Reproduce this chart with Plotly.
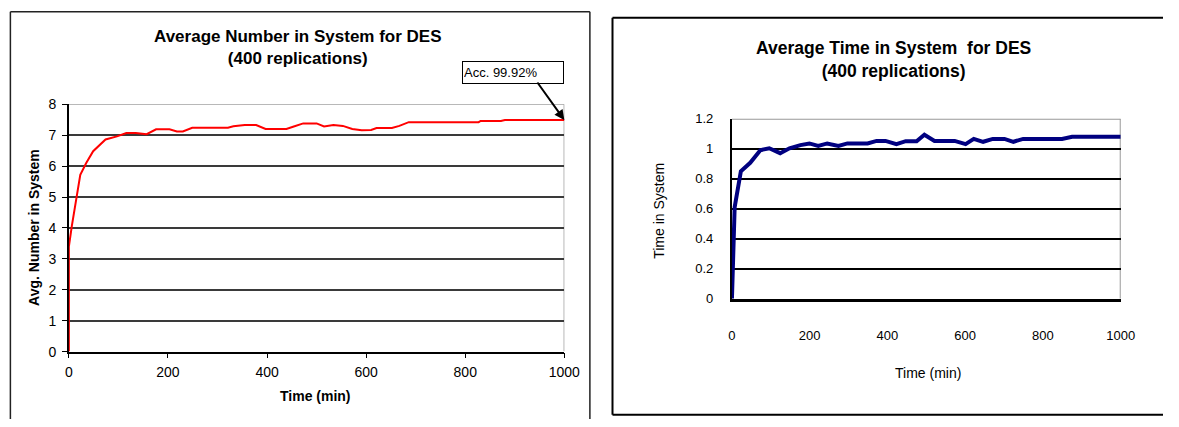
import plotly.graph_objects as go

W, H = 1179, 427

# ---- Data: left chart (Average Number in System) ----
num_time = [0, 0, 6, 15, 23, 35, 49, 74, 97, 116, 135, 157, 176, 203, 218, 230, 249, 321, 332, 355,
            378, 397, 439, 454, 473, 500, 515, 534, 553, 572, 591, 610, 621, 652, 667, 686, 827,
            831, 872, 880, 1000]
num_avg = [0, 3.4, 4.07, 5.0, 5.72, 6.1, 6.48, 6.86, 6.96, 7.07, 7.07, 7.03, 7.19, 7.19, 7.12, 7.12,
           7.24, 7.24, 7.29, 7.33, 7.33, 7.2, 7.2, 7.28, 7.38, 7.38, 7.28, 7.33, 7.3, 7.2, 7.16,
           7.17, 7.23, 7.23, 7.3, 7.42, 7.42, 7.46, 7.46, 7.49, 7.49]

# ---- Data: right chart (Average Time in System) ----
tis_time = [0, 7, 23, 47, 73, 96, 124, 148, 176, 199, 222, 245, 274, 297, 349, 372, 395, 423, 447,
            475, 495, 521, 573, 601, 622, 646, 671, 701, 724, 749, 849, 875, 1000]
tis_avg = [0, 0.61, 0.85, 0.906, 0.99, 1.003, 0.97, 1.003, 1.024, 1.035, 1.018, 1.035, 1.018, 1.035,
           1.035, 1.052, 1.052, 1.03, 1.05, 1.05, 1.093, 1.052, 1.052, 1.03, 1.065, 1.046, 1.065,
           1.065, 1.046, 1.065, 1.065, 1.08, 1.08]

x_ticks = [0, 200, 400, 600, 800, 1000]
acc_label = "Acc. 99.92%"


def px(x):
    return min(max(x / W, 0.0), 1.0)


def py(y):
    return min(max(1 - y / H, 0.0), 1.0)


FONT = "Liberation Sans, Arial, sans-serif"

fig = go.Figure()
fig.add_trace(go.Scatter(x=num_time, y=num_avg, mode="lines", xaxis="x", yaxis="y",
                         line=dict(color="#ff0000", width=2), showlegend=False, hoverinfo="skip",
                         cliponaxis=False))
fig.add_trace(go.Scatter(x=tis_time, y=tis_avg, mode="lines", xaxis="x2", yaxis="y2",
                         line=dict(color="#000080", width=4), showlegend=False, hoverinfo="skip",
                         cliponaxis=False))

fig.update_layout(
    width=W, height=H,
    margin=dict(l=0, r=0, t=0, b=0),
    paper_bgcolor="white", plot_bgcolor="white",
    font=dict(family=FONT, color="black"),
    xaxis=dict(domain=[px(66), px(570)], range=[0, 1000], tickvals=x_ticks,
               showgrid=False, zeroline=False, showline=True, linecolor="#000000", linewidth=1.5,
               ticks="outside", ticklen=5, tickcolor="#000000", layer="below traces",
               tickfont=dict(family=FONT, size=14, color="#000000"), ticklabelstandoff=2,
               anchor="y", fixedrange=True),
    yaxis=dict(domain=[py(357), py(100)], range=[0, 8], dtick=1,
               showgrid=True, gridcolor="#3a3a3a", gridwidth=1.5, zeroline=False,
               showline=True, linecolor="#000000", linewidth=1.5, layer="below traces",
               ticks="outside", ticklen=5, tickcolor="#000000",
               tickfont=dict(family=FONT, size=14, color="#000000"), ticklabelstandoff=3,
               anchor="x", fixedrange=True),
    xaxis2=dict(domain=[px(740.5), px(1136)], range=[0, 1000], tickvals=x_ticks,
                showgrid=False, zeroline=False, showline=True, linecolor="#000000", linewidth=3,
                layer="below traces",
                ticks="", tickfont=dict(family=FONT, size=13, color="#000000"), ticklabelstandoff=23,
                anchor="y2", fixedrange=True),
    yaxis2=dict(domain=[py(302), py(115)], range=[0, 1.2], dtick=0.2,
                showgrid=True, gridcolor="#000000", gridwidth=2, zeroline=False,
                showline=True, linecolor="#000000", linewidth=2, layer="below traces",
                ticks="", tickfont=dict(family=FONT, size=13, color="#000000"), ticklabelstandoff=14,
                anchor="x2", fixedrange=True),
)


def pline(x0, y0, x1, y1, color, width):
    return dict(type="line", xref="paper", yref="paper", x0=px(x0), y0=py(y0), x1=px(x1), y1=py(y1),
                line=dict(color=color, width=width))


shapes = [
    # left panel frame (open at the bottom, as it runs off the picture)
    pline(6.5, 4, 6.5, 427, "#222222", 1.5),
    pline(6.5, 4, 596, 4, "#222222", 1.5),
    pline(596, 4, 596, 427, "#222222", 1.5),
    # right panel frame (open on the right)
    pline(619, 10, 619, 422.5, "#000000", 2),
    pline(619, 10, 1179, 10, "#000000", 2),
    pline(619, 422.5, 1179, 422.5, "#000000", 2),
    # left plot top & right borders (gray)
    dict(type="line", xref="x", yref="y", x0=0, x1=1000, y0=8, y1=8, layer="below",
         line=dict(color="#a0a0a0", width=1.5)),
    dict(type="line", xref="x", yref="y", x0=1000, x1=1000, y0=0, y1=8, layer="below",
         line=dict(color="#a0a0a0", width=1.5)),
    # right plot top & right borders (gray)
    dict(type="line", xref="x2", yref="y2", x0=0, x1=1000, y0=1.2, y1=1.2, layer="below",
         line=dict(color="#999999", width=2)),
    dict(type="line", xref="x2", yref="y2", x0=1000, x1=1000, y0=0, y1=1.2, layer="below",
         line=dict(color="#999999", width=2)),
]
fig.update_layout(shapes=shapes)

annotations = [
    dict(text="<b>Average Number in System for DES</b><br><b>(400 replications)</b>",
         xref="paper", yref="paper", x=px(299), y=py(41), xanchor="center", yanchor="middle",
         showarrow=False, font=dict(family=FONT, size=17, color="#000000")),
    dict(text="<b>Average Time in System  for DES</b><br><b>(400 replications)</b>",
         xref="paper", yref="paper", x=px(905), y=py(54), xanchor="center", yanchor="middle",
         showarrow=False, font=dict(family=FONT, size=17.5, color="#000000")),
    # axis titles
    dict(text="<b>Avg. Number in System</b>", xref="paper", yref="paper", x=px(31), y=py(228),
         xanchor="center", yanchor="middle", textangle=-90, showarrow=False,
         font=dict(family=FONT, size=14, color="#000000")),
    dict(text="<b>Time (min)</b>", xref="paper", yref="paper", x=px(317), y=py(403),
         xanchor="center", yanchor="middle", showarrow=False,
         font=dict(family=FONT, size=14, color="#000000")),
    dict(text="Time in System", xref="paper", yref="paper", x=px(666), y=py(211),
         xanchor="center", yanchor="middle", textangle=-90, showarrow=False,
         font=dict(family=FONT, size=14, color="#000000")),
    dict(text="Time (min)", xref="paper", yref="paper", x=px(940), y=py(379),
         xanchor="center", yanchor="middle", showarrow=False,
         font=dict(family=FONT, size=14, color="#000000")),
    # accuracy callout
    dict(text=acc_label, xref="paper", yref="paper", x=px(518), y=py(67.5),
         xanchor="center", yanchor="middle", showarrow=False, align="left",
         font=dict(family=FONT, size=13, color="#000000"),
         bordercolor="#000000", borderwidth=1, bgcolor="white", width=98, height=19, borderpad=1),
    dict(text="", xref="x", yref="y", x=num_time[-1], y=num_avg[-1], ax=-28, ay=-39,
         showarrow=True, arrowhead=2, arrowsize=1, arrowwidth=2, arrowcolor="#000000"),
]
fig.update_layout(annotations=annotations)

fig.write_html("out.html", config={"responsive": False, "displayModeBar": False})
